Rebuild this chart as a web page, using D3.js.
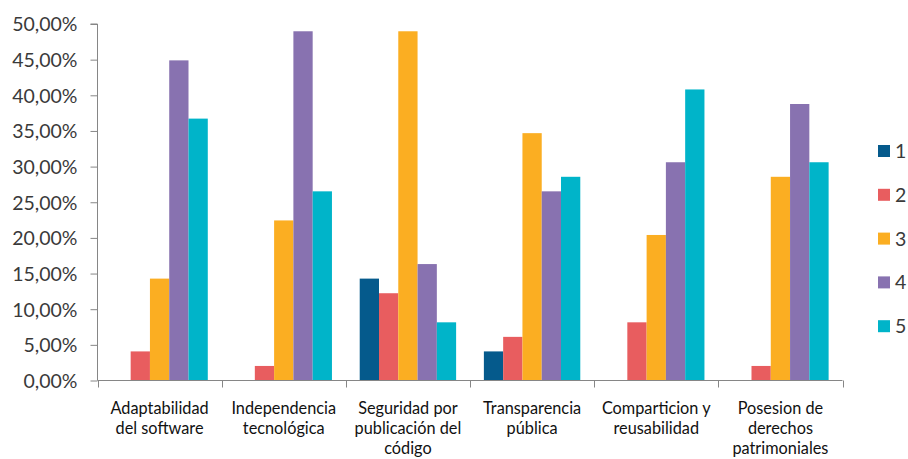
<!DOCTYPE html>
<html>
<head>
<meta charset="utf-8">
<script src="https://cdn.jsdelivr.net/npm/d3@7"></script>
<style>
  html, body { margin: 0; padding: 0; background: #ffffff; }
  svg { display: block; }
  text { font-family: Lato, "Open Sans", sans-serif; }
</style>
</head>
<body>
<svg id="chart" width="908" height="459"></svg>
<script>
// Categories, each label split into its display lines
const categories = [
  "Adaptabilidad del software",
  "Independencia tecnológica",
  "Seguridad por publicación del código",
  "Transparencia pública",
  "Comparticion y reusabilidad",
  "Posesion de derechos patrimoniales"
];
const categoryLines = [
  ["Adaptabilidad", "del software"],
  ["Independencia", "tecnológica"],
  ["Seguridad por", "publicación del", "código"],
  ["Transparencia", "pública"],
  ["Comparticion y", "reusabilidad"],
  ["Posesion de", "derechos", "patrimoniales"]
];

// Series names (rating 1..5)
const seriesNames = ["1", "2", "3", "4", "5"];

// Percentages per series, one value per category
const series1 = [0.00, 0.00, 14.29, 4.08, 0.00, 0.00];
const series2 = [4.08, 2.04, 12.24, 6.12, 8.16, 2.04];
const series3 = [14.29, 22.45, 48.98, 34.69, 20.41, 28.57];
const series4 = [44.90, 48.98, 16.33, 26.53, 30.61, 38.78];
const series5 = [36.73, 26.53, 8.16, 28.57, 40.82, 30.61];
const seriesValues = [series1, series2, series3, series4, series5];

const seriesColors = ["#055a8c", "#e85d5f", "#fbae22", "#8872b0", "#00b4c9"];

// Y axis ticks (percent)
const yTicks = [0, 5, 10, 15, 20, 25, 30, 35, 40, 45, 50];

const svg = d3.select("#chart");
const plot = { left: 97.5, right: 842.5, top: 24, bottom: 380.5 };

const x0 = d3.scaleBand()
  .domain(categories)
  .range([plot.left, plot.right])
  .padding(0);

const x1 = d3.scaleBand()
  .domain(seriesNames)
  .range([0, x0.bandwidth()])
  .paddingInner(0)
  .paddingOuter(0.72);

const y = d3.scaleLinear()
  .domain([0, 50])
  .range([plot.bottom, plot.top]);

const locale = d3.formatLocale({ decimal: ",", thousands: ".", grouping: [3], currency: ["", "€"] });
const fmt = locale.format(".2f");

const axisColor = "#868686";

// Bars
const groups = svg.append("g")
  .selectAll("g")
  .data(categories)
  .join("g")
  .attr("transform", d => `translate(${x0(d)},0)`);

groups.selectAll("rect")
  .data((c, ci) => seriesNames.map((s, si) => ({ s, si, v: seriesValues[si][ci] })))
  .join("rect")
  .filter(d => d.v > 0)
  .attr("x", d => x1(d.s))
  .attr("y", d => y(d.v))
  .attr("width", x1.bandwidth())
  .attr("height", d => y(0) - y(d.v))
  .attr("fill", d => seriesColors[d.si]);

// Y axis
const yAxis = svg.append("g")
  .attr("transform", `translate(${plot.left},0)`)
  .call(d3.axisLeft(y).tickValues(yTicks).tickSize(7).tickPadding(13).tickFormat(d => fmt(d) + "%"));
yAxis.select(".domain").attr("stroke", axisColor).attr("d", `M-7,${y(50)}H0V${y(0)}`);
yAxis.selectAll(".tick line").attr("stroke", axisColor);
yAxis.selectAll(".tick text")
  .attr("fill", "#3a3a3a")
  .style("font-size", "19.5px")
  .attr("dy", "0.35em");

// X axis
const boundaries = categories.map(c => x0(c)).concat([plot.right]);
const xAxis = svg.append("g");
xAxis.append("line")
  .attr("x1", plot.left).attr("x2", plot.right)
  .attr("y1", y(0)).attr("y2", y(0))
  .attr("stroke", axisColor);
xAxis.selectAll("line.tick")
  .data(boundaries)
  .join("line")
  .attr("class", "tick")
  .attr("x1", d => Math.round(d) + 0.5).attr("x2", d => Math.round(d) + 0.5)
  .attr("y1", y(0)).attr("y2", y(0) + 7)
  .attr("stroke", axisColor);

// Category labels
const labels = svg.append("g")
  .selectAll("text")
  .data(categories)
  .join("text")
  .attr("x", d => x0(d) + x0.bandwidth() / 2)
  .attr("y", 414)
  .attr("text-anchor", "middle")
  .attr("fill", "#111")
  .style("font-size", "16.3px");
labels.selectAll("tspan")
  .data((d, i) => categoryLines[i])
  .join("tspan")
  .attr("x", function () { return d3.select(this.parentNode).attr("x"); })
  .attr("dy", (d, i) => i === 0 ? 0 : 20)
  .text(d => d);

// Legend
const legend = svg.append("g")
  .selectAll("g")
  .data(seriesNames)
  .join("g")
  .attr("transform", (d, i) => `translate(878,${151 + i * 43.8})`);
legend.append("rect")
  .attr("x", 0).attr("y", -6)
  .attr("width", 12).attr("height", 12)
  .attr("fill", (d, i) => seriesColors[i]);
legend.append("text")
  .attr("x", 17).attr("y", 0)
  .attr("dy", "0.36em")
  .attr("fill", "#3a3a3a")
  .style("font-size", "19.5px")
  .text(d => d);
</script>
</body>
</html>
